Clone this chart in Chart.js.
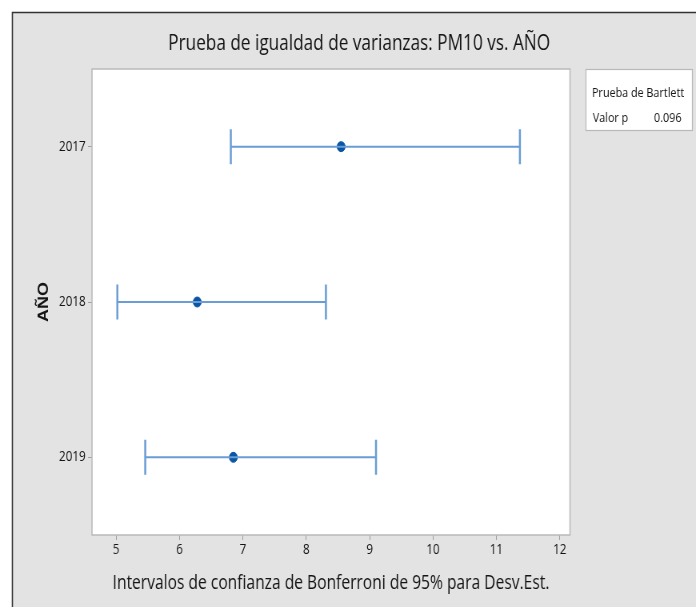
<!DOCTYPE html>
<html>
<head>
<meta charset="utf-8">
<script src="https://cdn.jsdelivr.net/npm/chart.js@4"></script>
<style>
  html, body { margin: 0; padding: 0; background: #fff; overflow: hidden; }
  /* the source picture is squeezed sideways, so draw wide and squeeze the same way */
  #wrap { width: 870px; height: 607px; transform: scaleX(0.8); transform-origin: 0 0; }
</style>
</head>
<body>
<div id="wrap"><canvas id="varChart" width="870" height="607"></canvas></div>
<script>
const years = ['2017', '2018', '2019'];
const lowerCI = [6.81, 5.02, 5.46];
const estimate = [8.55, 6.28, 6.85];
const upperCI = [11.37, 8.31, 9.10];
const xTicks = [5, 6, 7, 8, 9, 10, 11, 12];
const pValue = '0.096';

function hasFont(name) {
  const c = document.createElement('canvas').getContext('2d');
  c.font = '40px monospace';
  const a = c.measureText('2019 Narrow').width;
  c.font = "40px '" + name + "', monospace";
  const b = c.measureText('2019 Narrow').width;
  return a !== b;
}

const FONT = "'Open Sans', 'Noto Sans', sans-serif";
const narrow = hasFont('Liberation Sans Narrow');
const TICK_FONT = narrow ? "'Liberation Sans Narrow', 'Open Sans', sans-serif" : FONT;
const TICK_SIZE = narrow ? 16.5 : 14.5;
const TEXT = '#141414';
const LINE_BLUE = '#6a9dd5';
const DOT_BLUE = '#0b55a5';
const PANEL = '#e3e3e3';

// one line dataset per year: the interval with end caps
const intervalSets = years.map((y, i) => ({
  label: 'IC ' + y,
  data: [{ x: lowerCI[i], y: y }, { x: upperCI[i], y: y }],
  showLine: true,
  borderColor: LINE_BLUE,
  borderWidth: 2,
  pointStyle: 'line',
  rotation: 90,
  pointRadius: 17.5,
  pointBorderWidth: 2.5,
  pointBorderColor: LINE_BLUE,
  pointHoverRadius: 17.5
}));

const estimateSet = {
  label: 'Desv.Est.',
  data: years.map((y, i) => ({ x: estimate[i], y: y })),
  showLine: false,
  pointStyle: 'circle',
  pointRadius: 5,
  pointBackgroundColor: DOT_BLUE,
  pointBorderColor: DOT_BLUE,
  pointBorderWidth: 1
};

// background panel, plot frame, title and Bartlett box
const decor = {
  id: 'decor',
  beforeDraw(chart) {
    const c = chart.ctx;
    c.save();
    c.fillStyle = '#fff';
    c.fillRect(0, 0, chart.width, chart.height);
    c.fillStyle = PANEL;
    c.fillRect(15, 12, chart.width - 15, chart.height - 12);
    c.strokeStyle = '#333';
    c.lineWidth = 1.6;
    c.beginPath();
    c.moveTo(15.5, chart.height);
    c.lineTo(15.5, 12.5);
    c.lineTo(chart.width, 12.5);
    c.stroke();
    const a = chart.chartArea;
    c.fillStyle = '#fff';
    c.fillRect(a.left, a.top, a.right - a.left, a.bottom - a.top);
    c.restore();
  },
  afterDraw(chart) {
    const c = chart.ctx;
    const a = chart.chartArea;
    c.save();
    c.strokeStyle = '#b9b9b9';
    c.lineWidth = 1.5;
    c.strokeRect(a.left, a.top, a.right - a.left, a.bottom - a.top);

    c.fillStyle = TEXT;
    c.font = '21.5px ' + FONT;
    c.textAlign = 'center';
    c.textBaseline = 'middle';
    c.fillText('Prueba de igualdad de varianzas: PM10 vs. AÑO', 449, 44);

    c.fillStyle = '#fff';
    c.fillRect(732, 69, 134, 62);
    c.strokeStyle = '#b9b9b9';
    c.lineWidth = 1.2;
    c.strokeRect(732.5, 69.5, 133, 61);
    c.fillStyle = TEXT;
    c.font = '13.5px ' + FONT;
    c.textAlign = 'left';
    c.fillText('Prueba de Bartlett', 740, 93);
    c.fillText('Valor p', 741, 118);
    c.textAlign = 'right';
    c.fillText(pValue, 852, 118);
    c.restore();
  }
};

new Chart(document.getElementById('varChart'), {
  type: 'scatter',
  data: { datasets: [...intervalSets, estimateSet] },
  options: {
    responsive: false,
    animation: false,
    layout: { padding: { left: 0, right: 157.5, top: 69, bottom: 0 } },
    plugins: {
      legend: { display: false },
      tooltip: { enabled: false }
    },
    scales: {
      x: {
        type: 'linear',
        min: 4.62,
        max: 12.16,
        afterBuildTicks(scale) {
          scale.ticks = xTicks.map(v => ({ value: v }));
        },
        afterFit(scale) { scale.height = 72; },
        ticks: {
          includeBounds: false,
          color: TEXT,
          font: { family: TICK_FONT, size: TICK_SIZE },
          padding: 1
        },
        grid: { drawOnChartArea: false, tickLength: 5, color: '#a0a0a0' },
        border: { display: false },
        title: {
          display: true,
          text: 'Intervalos de confianza de Bonferroni de 95% para Desv.Est.',
          color: TEXT,
          font: { family: FONT, size: 19.5 },
          padding: { top: 0, bottom: 12 },
          align: 'center'
        }
      },
      y: {
        type: 'category',
        labels: years,
        offset: true,
        afterFit(scale) { scale.width = 115; },
        ticks: {
          color: TEXT,
          font: { family: TICK_FONT, size: TICK_SIZE },
          padding: 3
        },
        grid: { drawOnChartArea: false, offset: false, tickLength: 5, color: '#a0a0a0' },
        border: { display: false },
        title: {
          display: true,
          text: 'AÑO',
          color: TEXT,
          font: { family: "'Liberation Sans', Arial, sans-serif", size: 18, weight: 'bold' },
          padding: { top: 44, bottom: 0 }
        }
      }
    }
  },
  plugins: [decor]
});
</script>
</body>
</html>
